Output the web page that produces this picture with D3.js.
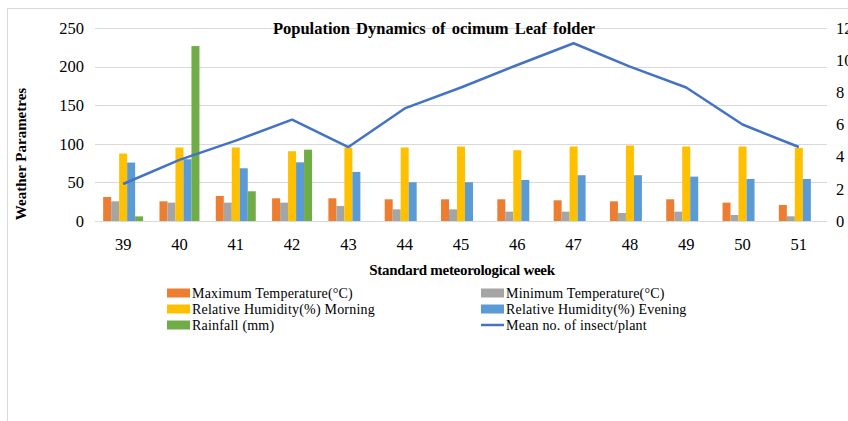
<!DOCTYPE html>
<html>
<head>
<meta charset="utf-8">
<script src="https://cdn.jsdelivr.net/npm/d3@7"></script>
<style>
  body { margin: 0; background: #fff; }
  text { font-family: "Liberation Serif", "Times New Roman", serif; fill: #000; }
</style>
</head>
<body>
<div id="content"></div>
<script>
(function(d3) {

   // chart data
   var weeks = ["39", "40", "41", "42", "43", "44", "45", "46", "47", "48", "49", "50", "51"];
   var maxTemp  = [31.1, 25.5, 32.4, 29.4, 29.4, 28.1, 28.1, 28.1, 26.8, 25.5, 28.1, 23.8, 20.8];
   var minTemp  = [25.5, 23.8, 23.8, 23.8, 19.5, 15.1, 15.1, 12.1, 12.1, 10.4, 12.1, 7.8, 6.1];
   var rhMorn   = [87.4, 95.2, 95.2, 90.4, 95.2, 95.2, 96.5, 91.7, 96.5, 97.8, 96.5, 96.5, 94.7];
   var rhEve    = [75.7, 80.0, 68.3, 76.0, 63.6, 50.2, 50.2, 53.2, 59.3, 59.3, 57.5, 54.5, 54.5];
   var rainfall = [6.0, 226.6, 38.5, 92.4, 0, 0, 0, 0, 0, 0, 0, 0, 0];
   var insects  = [2.3, 3.8, 5.0, 6.3, 4.6, 7.0, 8.3, 9.7, 11.05, 9.6, 8.3, 6.0, 4.6];

   var leftTicks = [0, 50, 100, 150, 200, 250];
   var rightTicks = [0, 2, 4, 6, 8, 10, 12];

   var barSeries = [
      {name: "Maximum Temperature(°C)", values: maxTemp, color: "#ED7D31"},
      {name: "Minimum Temperature(°C)", values: minTemp, color: "#A5A5A5"},
      {name: "Relative Humidity(%) Morning", values: rhMorn, color: "#FFC000"},
      {name: "Relative Humidity(%) Evening", values: rhEve, color: "#5B9BD5"},
      {name: "Rainfall (mm)", values: rainfall, color: "#70AD47"}
   ];
   var lineName = "Mean no. of insect/plant";
   var lineColor = "#4472C4";

   var win_width = 848;
   var win_height = 421;

   var svg = d3.select("#content")
            .append("svg")
            .attr("width", win_width)
            .attr("height", win_height);

   // outer chart frame (cropped in the picture)
   svg.append("rect")
      .attr("x", 7.5).attr("y", 8.5)
      .attr("width", 1000).attr("height", 600)
      .attr("fill", "none").attr("stroke", "#D9D9D9");

   var left = 95, right = 827, top = 28, bottom = 221;

   var x = d3.scaleBand().domain(weeks).range([left, right])
             .paddingInner(0.29).paddingOuter(0.145);
   var xs = d3.scaleBand().domain(d3.range(barSeries.length)).range([0, x.bandwidth()]);
   var y = d3.scaleLinear().domain([0, 250]).range([bottom, top]);
   var y2 = d3.scaleLinear().domain([0, 12]).range([bottom, top]);

   // gridlines
   svg.append("g").selectAll("line")
      .data(leftTicks)
      .join("line")
      .attr("x1", left).attr("x2", right)
      .attr("y1", d => Math.round(y(d)) + 0.5)
      .attr("y2", d => Math.round(y(d)) + 0.5)
      .attr("stroke", "#D9D9D9").attr("stroke-width", 1);

   // left axis labels
   svg.append("g").selectAll("text")
      .data(leftTicks)
      .join("text")
      .attr("x", 84)
      .attr("y", d => y(d))
      .attr("dy", "0.35em")
      .attr("text-anchor", "end")
      .style("font-size", "16.5px")
      .text(d => d);

   // right axis labels (cut off by the picture edge, as in the original)
   svg.append("g").selectAll("text")
      .data(rightTicks)
      .join("text")
      .attr("x", 836)
      .attr("y", d => y2(d))
      .attr("dy", "0.35em")
      .style("font-size", "16.5px")
      .text(d => d);

   // bars
   var groups = svg.append("g").selectAll("g")
      .data(barSeries)
      .join("g")
      .attr("fill", d => d.color);

   groups.each(function(s, si) {
      d3.select(this).selectAll("rect")
         .data(s.values)
         .join("rect")
         .attr("x", (v, i) => x(weeks[i]) + xs(si))
         .attr("width", xs.bandwidth())
         .attr("y", v => y(v))
         .attr("height", v => y(0) - y(v));
   });

   // line series
   var line = d3.line()
      .x((v, i) => x(weeks[i]) + x.bandwidth() / 2)
      .y(v => y2(v));

   svg.append("path")
      .datum(insects)
      .attr("d", line)
      .attr("fill", "none")
      .attr("stroke", lineColor)
      .attr("stroke-width", 2.5)
      .attr("stroke-linejoin", "round");

   // x labels
   svg.append("g").selectAll("text")
      .data(weeks)
      .join("text")
      .attr("x", d => x(d) + x.bandwidth() / 2)
      .attr("y", 244)
      .attr("dy", "0.35em")
      .attr("text-anchor", "middle")
      .style("font-size", "16.5px")
      .text(d => d);

   // titles
   svg.append("text")
      .attr("x", 434).attr("y", 34)
      .attr("text-anchor", "middle")
      .style("font-size", "16.5px").style("font-weight", "bold")
      .style("word-spacing", "2px")
      .text("Population Dynamics of ocimum Leaf folder");

   svg.append("text")
      .attr("x", 462).attr("y", 275)
      .attr("text-anchor", "middle")
      .style("font-size", "15px").style("font-weight", "bold")
      .style("letter-spacing", "-0.3px")
      .text("Standard meteorological week");

   svg.append("text")
      .attr("transform", "translate(26,154) rotate(-90)")
      .attr("text-anchor", "middle")
      .style("font-size", "15px").style("font-weight", "bold")
      .text("Weather Parametres");

   // legend
   var legendItems = barSeries.map(d => ({name: d.name, color: d.color, type: "bar"}))
      .concat([{name: lineName, color: lineColor, type: "line"}]);
   var legendCols = [167, 481];
   var legendRows = [293, 309, 325];

   var leg = svg.append("g").selectAll("g")
      .data(legendItems)
      .join("g")
      .attr("transform", (d, i) => "translate(" + legendCols[i % 2] + "," + legendRows[Math.floor(i / 2)] + ")");

   leg.filter(d => d.type === "bar").append("rect")
      .attr("x", 0).attr("y", -4.5)
      .attr("width", 23).attr("height", 9)
      .attr("fill", d => d.color);

   leg.filter(d => d.type === "line").append("line")
      .attr("x1", 0).attr("x2", 23)
      .attr("y1", 0).attr("y2", 0)
      .attr("stroke", d => d.color).attr("stroke-width", 2.5);

   leg.append("text")
      .attr("x", 25)
      .attr("dy", "0.35em")
      .style("font-size", "14px")
      .style("letter-spacing", "0.2px")
      .text(d => d.name);

})(window.d3);
</script>
</body>
</html>
